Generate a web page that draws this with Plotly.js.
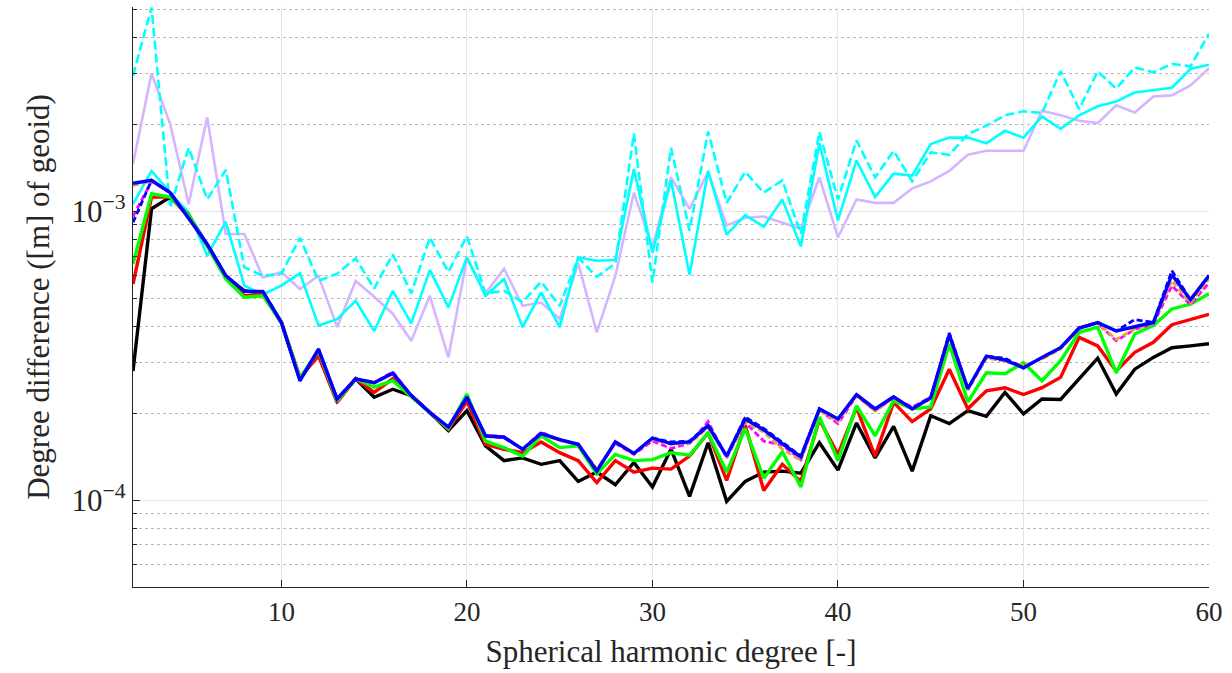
<!DOCTYPE html>
<html>
<head>
<meta charset="utf-8">
<script src="https://cdn.plot.ly/plotly-3.0.1.min.js"></script>
<style>html,body{margin:0;padding:0;background:#fff;}#chart{width:1232px;height:673px;}</style>
</head>
<body>
<div id="chart"></div>
<script>
// Spherical harmonic degrees 2..60
const degrees = [2,3,4,5,6,7,8,9,10,11,12,13,14,15,16,17,18,19,20,21,22,23,24,25,26,27,28,29,30,31,32,33,34,35,36,37,38,39,40,41,42,43,44,45,46,47,48,49,50,51,52,53,54,55,56,57,58,59,60];

const cyanDashed = [2.95e-3,5.08e-3,1.03e-3,1.66e-3,1.1e-3,1.39e-3,6.4e-4,5.98e-4,6.08e-4,8.1e-4,5.74e-4,6.08e-4,6.87e-4,5.4e-4,7.1e-4,5.2e-4,8.1e-4,6.17e-4,8.2e-4,5.2e-4,5.3e-4,4.85e-4,5.7e-4,4.7e-4,6.9e-4,5.93e-4,6.6e-4,1.86e-3,5.66e-4,1.66e-3,8.57e-4,1.89e-3,1.07e-3,1.37e-3,1.16e-3,1.28e-3,8.35e-4,1.88e-3,1.1e-3,1.76e-3,1.31e-3,1.62e-3,1.27e-3,1.6e-3,1.57e-3,1.85e-3,1.98e-3,2.15e-3,2.22e-3,2.19e-3,3.06e-3,2.26e-3,3.05e-3,2.66e-3,3.15e-3,3.03e-3,3.24e-3,3.18e-3,4.12e-3];

const cyanSolid = [1.06e-3,1.38e-3,1.16e-3,9.9e-4,7.03e-4,9.2e-4,5.53e-4,5.15e-4,5.53e-4,6.1e-4,4.02e-4,4.23e-4,4.9e-4,3.85e-4,5.3e-4,4.09e-4,6.27e-4,4.65e-4,6.93e-4,5.1e-4,5.83e-4,3.97e-4,5.24e-4,3.97e-4,6.93e-4,6.74e-4,6.78e-4,1.4e-3,7.2e-4,1.28e-3,6.03e-4,1.38e-3,8.3e-4,9.7e-4,8.85e-4,1.1e-3,7.55e-4,1.72e-3,9.3e-4,1.5e-3,1.12e-3,1.35e-3,1.33e-3,1.71e-3,1.8e-3,1.8e-3,1.72e-3,1.9e-3,1.8e-3,2.13e-3,1.93e-3,2.15e-3,2.31e-3,2.4e-3,2.58e-3,2.63e-3,2.68e-3,3.11e-3,3.22e-3];

const lavender = [1.46e-3,3.0e-3,2.01e-3,1.06e-3,2.12e-3,8.35e-4,8.35e-4,5.9e-4,6.15e-4,5.38e-4,5.98e-4,3.97e-4,5.74e-4,5.06e-4,4.42e-4,3.56e-4,5.1e-4,3.12e-4,6.87e-4,5.2e-4,6.33e-4,4.71e-4,4.83e-4,4.24e-4,6.6e-4,3.81e-4,5.98e-4,1.16e-3,7.5e-4,1.31e-3,1.02e-3,1.37e-3,8.93e-4,9.5e-4,9.6e-4,9.16e-4,8.7e-4,1.31e-3,8.13e-4,1.1e-3,1.07e-3,1.07e-3,1.2e-3,1.27e-3,1.38e-3,1.57e-3,1.62e-3,1.62e-3,1.62e-3,2.23e-3,2.15e-3,2.06e-3,2.02e-3,2.33e-3,2.2e-3,2.5e-3,2.52e-3,2.73e-3,3.13e-3];

const blackSeries = [2.8e-4,1.02e-3,1.12e-3,9.7e-4,7.66e-4,5.9e-4,5.31e-4,5.2e-4,4.12e-4,2.62e-4,3.24e-4,2.2e-4,2.63e-4,2.27e-4,2.42e-4,2.3e-4,2.01e-4,1.74e-4,2.04e-4,1.54e-4,1.37e-4,1.4e-4,1.33e-4,1.37e-4,1.16e-4,1.25e-4,1.13e-4,1.35e-4,1.11e-4,1.5e-4,1.03e-4,1.58e-4,9.9e-5,1.16e-4,1.25e-4,1.26e-4,1.24e-4,1.58e-4,1.27e-4,1.85e-4,1.4e-4,1.8e-4,1.26e-4,1.96e-4,1.84e-4,2.04e-4,1.95e-4,2.36e-4,1.99e-4,2.24e-4,2.23e-4,2.64e-4,3.1e-4,2.33e-4,2.84e-4,3.12e-4,3.37e-4,3.42e-4,3.48e-4];

const redSeries = [5.6e-4,1.12e-3,1.12e-3,9.6e-4,7.6e-4,5.9e-4,5.1e-4,5.17e-4,4.12e-4,2.66e-4,3.16e-4,2.18e-4,2.63e-4,2.36e-4,2.63e-4,2.3e-4,2.01e-4,1.76e-4,2.2e-4,1.56e-4,1.5e-4,1.46e-4,1.59e-4,1.46e-4,1.37e-4,1.15e-4,1.37e-4,1.25e-4,1.29e-4,1.28e-4,1.42e-4,1.71e-4,1.17e-4,1.82e-4,1.08e-4,1.33e-4,1.16e-4,1.9e-4,1.44e-4,2.09e-4,1.42e-4,2.18e-4,1.87e-4,2.07e-4,2.84e-4,2.07e-4,2.39e-4,2.45e-4,2.32e-4,2.45e-4,2.66e-4,3.66e-4,3.42e-4,2.8e-4,3.25e-4,3.52e-4,4.05e-4,4.21e-4,4.4e-4];

const greenSeries = [6.57e-4,1.15e-3,1.12e-3,9.7e-4,7.6e-4,5.83e-4,5.04e-4,5.1e-4,4.12e-4,2.65e-4,3.29e-4,2.2e-4,2.63e-4,2.46e-4,2.59e-4,2.28e-4,2.01e-4,1.77e-4,2.33e-4,1.6e-4,1.52e-4,1.42e-4,1.67e-4,1.52e-4,1.54e-4,1.23e-4,1.44e-4,1.37e-4,1.38e-4,1.46e-4,1.43e-4,1.71e-4,1.25e-4,1.77e-4,1.19e-4,1.47e-4,1.11e-4,1.94e-4,1.37e-4,2.12e-4,1.67e-4,2.21e-4,2.07e-4,2.1e-4,3.47e-4,2.19e-4,2.76e-4,2.74e-4,2.99e-4,2.59e-4,3.04e-4,3.81e-4,3.97e-4,2.76e-4,3.76e-4,4.02e-4,4.59e-4,4.77e-4,5.18e-4];

const magentaDashed = [9.6e-4,1.27e-3,1.17e-3,9.5e-4,7.7e-4,5.99e-4,5.28e-4,5.28e-4,4.12e-4,2.6e-4,3.33e-4,2.24e-4,2.63e-4,2.55e-4,2.78e-4,2.3e-4,2.01e-4,1.79e-4,2.27e-4,1.67e-4,1.66e-4,1.5e-4,1.72e-4,1.61e-4,1.56e-4,1.28e-4,1.57e-4,1.44e-4,1.6e-4,1.51e-4,1.57e-4,1.87e-4,1.4e-4,1.86e-4,1.6e-4,1.55e-4,1.38e-4,2.05e-4,1.84e-4,2.3e-4,2.04e-4,2.26e-4,2.1e-4,2.27e-4,3.7e-4,2.42e-4,3.12e-4,3.03e-4,2.9e-4,3.1e-4,3.36e-4,3.96e-4,4.1e-4,3.56e-4,3.9e-4,4.08e-4,5.53e-4,4.75e-4,5.66e-4];

const orangeDashed = [1.23e-3,1.27e-3,1.16e-3,9.5e-4,7.7e-4,5.99e-4,5.28e-4,5.28e-4,4.12e-4,2.6e-4,3.32e-4,2.23e-4,2.63e-4,2.54e-4,2.74e-4,2.3e-4,2.01e-4,1.78e-4,2.26e-4,1.66e-4,1.64e-4,1.5e-4,1.69e-4,1.61e-4,1.55e-4,1.28e-4,1.58e-4,1.45e-4,1.62e-4,1.56e-4,1.57e-4,1.78e-4,1.41e-4,1.86e-4,1.72e-4,1.5e-4,1.37e-4,2.04e-4,1.87e-4,2.3e-4,2.03e-4,2.26e-4,2.06e-4,2.24e-4,3.68e-4,2.4e-4,3.1e-4,3.03e-4,2.92e-4,3.08e-4,3.33e-4,3.92e-4,4.1e-4,3.6e-4,3.92e-4,4.1e-4,5.75e-4,4.82e-4,5.83e-4];

const blueDashed = [9.16e-4,1.28e-3,1.16e-3,9.5e-4,7.7e-4,5.99e-4,5.28e-4,5.28e-4,4.12e-4,2.59e-4,3.33e-4,2.24e-4,2.63e-4,2.55e-4,2.75e-4,2.3e-4,2.01e-4,1.79e-4,2.27e-4,1.67e-4,1.65e-4,1.5e-4,1.7e-4,1.62e-4,1.56e-4,1.26e-4,1.59e-4,1.45e-4,1.64e-4,1.59e-4,1.6e-4,1.82e-4,1.42e-4,1.94e-4,1.77e-4,1.58e-4,1.42e-4,2.07e-4,1.91e-4,2.32e-4,2.07e-4,2.28e-4,2.07e-4,2.26e-4,3.79e-4,2.43e-4,3.15e-4,3.1e-4,2.87e-4,3.12e-4,3.37e-4,3.94e-4,4.12e-4,3.85e-4,4.22e-4,4.12e-4,6.23e-4,4.94e-4,6.0e-4];

const blueSolid = [1.25e-3,1.28e-3,1.16e-3,9.5e-4,7.7e-4,5.99e-4,5.28e-4,5.28e-4,4.12e-4,2.59e-4,3.33e-4,2.24e-4,2.63e-4,2.55e-4,2.75e-4,2.3e-4,2.01e-4,1.79e-4,2.27e-4,1.67e-4,1.65e-4,1.5e-4,1.7e-4,1.62e-4,1.56e-4,1.26e-4,1.59e-4,1.45e-4,1.64e-4,1.57e-4,1.59e-4,1.81e-4,1.42e-4,1.91e-4,1.75e-4,1.57e-4,1.41e-4,2.07e-4,1.91e-4,2.32e-4,2.07e-4,2.28e-4,2.07e-4,2.26e-4,3.74e-4,2.43e-4,3.15e-4,3.06e-4,2.87e-4,3.12e-4,3.37e-4,3.94e-4,4.12e-4,3.85e-4,3.97e-4,4.12e-4,6.03e-4,4.94e-4,5.99e-4];

const yTickVals = [1e-4, 1e-3];
const yTickText = ['10<sup>\u22124</sup>', '10<sup>\u22123</sup>'];
const xTickVals = [10, 20, 30, 40, 50, 60];

function tr(y, color, width, dash) {
  return {x: degrees, y: y, type: 'scatter', mode: 'lines',
          line: {color: color, width: width, dash: dash || 'solid'},
          hoverinfo: 'skip', showlegend: false};
}

const data = [
  tr(lavender, '#d5b5ff', 2.6),
  tr(cyanDashed, '#00ffff', 2.6, '9px,4px'),
  tr(cyanSolid, '#00ffff', 2.6),
  tr(blackSeries, '#000000', 3.4),
  tr(redSeries, '#ff0000', 3.4),
  tr(greenSeries, '#00ff00', 3.4),
  tr(magentaDashed, '#ff00ff', 2.8, '6px,3px'),
  tr(orangeDashed, '#e8a33a', 2.8, '6px,3px'),
  tr(blueDashed, '#0000ff', 2.8, '6px,3px'),
  tr(blueSolid, '#0000ff', 3.4)
];

const serif = 'Liberation Serif, DejaVu Serif, serif';
const layout = {
  width: 1232, height: 673,
  margin: {l: 133, r: 23, t: 7, b: 86},
  paper_bgcolor: '#ffffff', plot_bgcolor: '#ffffff',
  font: {family: serif, color: '#262626'},
  xaxis: {
    range: [2, 60], tickvals: xTickVals, ticktext: xTickVals.map(String),
    ticks: 'inside', ticklen: 7, tickcolor: '#262626', showline: true, linecolor: '#262626', linewidth: 1.2,
    mirror: false, showgrid: true, gridcolor: '#e3e3e3', gridwidth: 1, zeroline: false,
    tickfont: {family: serif, size: 27, color: '#262626'},
    title: {text: 'Spherical harmonic degree [-]', font: {family: serif, size: 31, color: '#262626'}, standoff: 14}
  },
  yaxis: {
    type: 'log', range: [Math.log10(5e-5), Math.log10(5.1e-3)],
    tickvals: yTickVals, ticktext: yTickText,
    ticks: 'inside', ticklen: 7, tickcolor: '#262626', showline: true, linecolor: '#262626', linewidth: 1.2,
    showgrid: true, gridcolor: '#e3e3e3', gridwidth: 1, zeroline: false,
    tickfont: {family: serif, size: 31, color: '#262626'},
    minor: {ticks: 'inside', ticklen: 4, tickcolor: '#262626', showgrid: true, gridcolor: '#b9b9b9', griddash: 'dot', gridwidth: 1, dtick: 'D1'},
    title: {text: 'Degree difference ([m] of geoid)', font: {family: serif, size: 31, color: '#262626'}, standoff: 12}
  }
};

Plotly.newPlot('chart', data, layout, {staticPlot: true, displayModeBar: false});
</script>
</body>
</html>
